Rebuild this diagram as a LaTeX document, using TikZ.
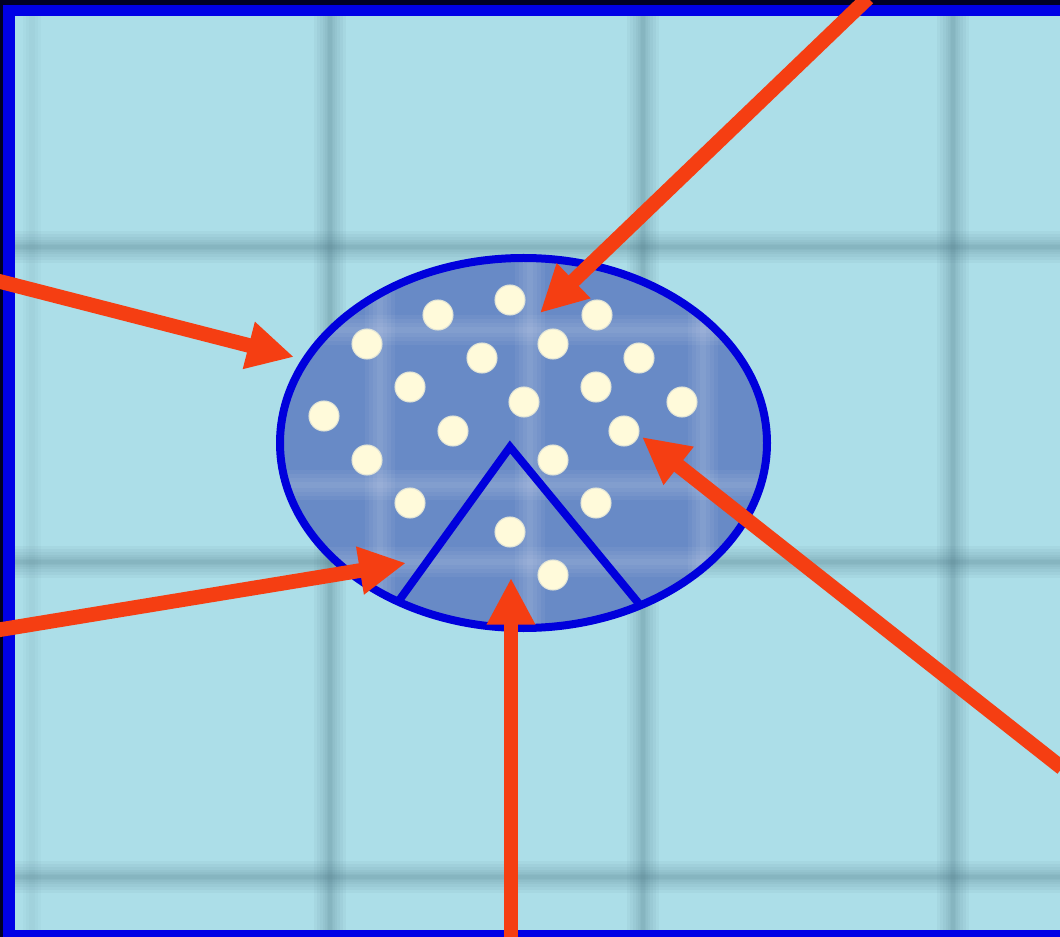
\documentclass[tikz,border=0pt]{standalone}
\usetikzlibrary{arrows.meta}
\definecolor{bgcyan}{RGB}{172,222,232}
\definecolor{gridc}{RGB}{70,112,124}
\definecolor{ellfill}{RGB}{104,138,198}
\definecolor{ellline}{RGB}{0,0,220}
\definecolor{framec}{RGB}{0,0,230}
\definecolor{arrred}{RGB}{245,62,18}
\definecolor{dotc}{RGB}{255,250,218}
\tikzset{
  gridblur/.style={line cap=butt},
  bluestroke/.style={draw=ellline, line width=6pt, line join=miter},
  dotstyle/.style={fill=dotc, draw=dotc!80!ellfill, line width=0.8pt},
  redarrow/.style={draw=arrred, line width=11pt, -{Triangle[length=35pt,width=34pt]}, fill=arrred}
}
\begin{document}
\begin{tikzpicture}[x=0.75pt,y=-0.75pt]
\useasboundingbox (0,0) rectangle (1060,937);
\clip (0,0) rectangle (1060,937);
% background
\fill[bgcyan] (0,0) rectangle (1060,937);
% blurred grid
\foreach \gx in {330,643,953} {
  \foreach \w in {24,19,15,11,8,5,3} {
    \draw[gridblur, gridc, opacity=0.06, line width=\w pt] (\gx,0) -- (\gx,937);
  }
}
\foreach \gy in {247,562,877} {
  \foreach \w in {24,19,15,11,8,5,3} {
    \draw[gridblur, gridc, opacity=0.06, line width=\w pt] (0,\gy) -- (1060,\gy);
  }
}
\foreach \w in {14,9,5} {
  \draw[gridblur, gridc, opacity=0.03, line width=\w pt] (32,0) -- (32,937);
}
% ellipse
\coordinate (ec) at (523.5,443);
\fill[ellfill] (ec) ellipse [x radius=243.5, y radius=185];
\begin{scope}
  \clip (ec) ellipse [x radius=243.5, y radius=185];
  \foreach \lx in {380,530,703} {
    \foreach \w in {22,16,10,5} {
      \draw[white, opacity=0.05, line width=\w pt] (\lx,240) -- (\lx,640);
    }
  }
  \foreach \ly in {330,485,562} {
    \foreach \w in {22,16,10,5} {
      \draw[white, opacity=0.05, line width=\w pt] (270,\ly) -- (780,\ly);
    }
  }
\end{scope}
% dots
\foreach \dx/\dy in {510/300,438/315,597/315,367/344,553/344,482/358,639/358,
  410/387,596/387,524/402,682/402,324/416,453/431,624/431,367/460,553/460,
  410/503,596/503,510/532,553/575} {
  \fill[dotstyle] (\dx,\dy) circle (15);
}
% ellipse outline and wedge
\draw[bluestroke] (ec) ellipse [x radius=243.5, y radius=185];
\coordinate (apex) at (510,447);
\coordinate (wl) at (398,602);
\coordinate (wr) at (640,605);
\draw[bluestroke] (wl) -- (apex) -- (wr);
% frame
\fill[black!85!blue] (0,0) rectangle (1060,5);
\fill[black!85!blue] (0,0) rectangle (3,937);
\fill[framec] (3,5) rectangle (1060,16);
\fill[framec] (3,5) rectangle (15,937);
\fill[framec] (3,930) rectangle (1060,937);
% arrows
\coordinate (s1) at (868,-2);  \coordinate (t1) at (540,313);
\coordinate (s2) at (-2,281);  \coordinate (t2) at (294,357);
\coordinate (s3) at (-2,630);  \coordinate (t3) at (406,563);
\coordinate (s4) at (511,940); \coordinate (t4) at (511,578);
\coordinate (s5) at (1062,768);\coordinate (t5) at (642,437);
\draw[redarrow] (s1) -- (t1);
\draw[redarrow] (s2) -- (t2);
\draw[redarrow] (s3) -- (t3);
\draw[redarrow] (s4) -- (t4);
\draw[redarrow] (s5) -- (t5);
\end{tikzpicture}
\end{document}
